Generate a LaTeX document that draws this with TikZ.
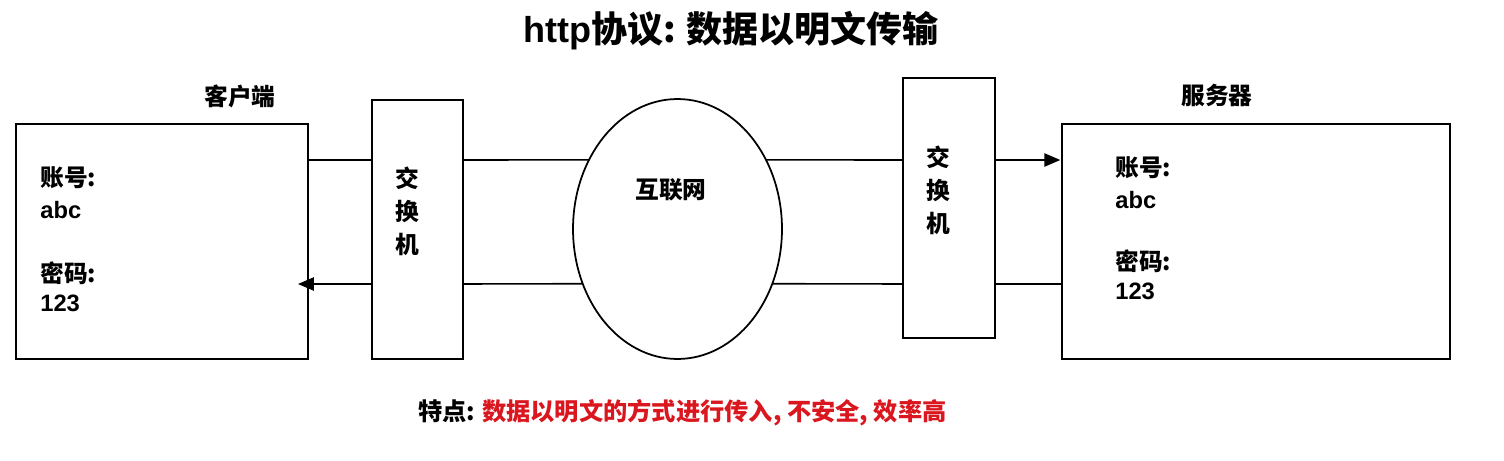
\documentclass[tikz,border=0pt]{standalone}
\usepackage{fontspec}
\setmainfont{Liberation Sans}
\newfontfamily\cjk{Noto Sans CJK SC}
\usetikzlibrary{arrows.meta,shapes.geometric}
\definecolor{notered}{RGB}{218,22,30}

\begin{document}
\begin{tikzpicture}[x=0.02cm,y=-0.02cm,
	box_node/.style={rectangle,draw,line width=1pt,outer sep=0pt,inner sep=0pt},
	net_node/.style={ellipse,draw,line width=1pt,outer sep=0pt,inner sep=0pt,minimum width=4.18cm,minimum height=5.2cm},
	txt/.style={font=\fontsize{13.5}{15}\selectfont\bfseries,inner sep=0pt},
	cjk_txt/.style={font=\cjk\fontsize{13.5}{15}\selectfont\bfseries,inner sep=0pt},
	sw_txt/.style={font=\cjk\fontsize{13.5}{18.7}\selectfont\bfseries,inner sep=0pt,align=center},
	link/.style={line width=0.9pt},
	arr/.style={link,-{Triangle[length=9pt,width=7.5pt]}}]

		\useasboundingbox (0,0) rectangle (1504,460);

		\node[font=\fontsize{20.5}{24}\selectfont\bfseries,inner sep=0pt] (title) at (731,31) {http{\cjk 协议: 数据以明文传输}};

		% client side
		\node[cjk_txt] (client_lbl) at (240,96) {客户端};
		\node[box_node,minimum width=5.84cm,minimum height=4.7cm] (client) at (162,241.5) {};
		\node[cjk_txt,anchor=west] (c_acc) at (40,178) {账号:};
		\node[txt,anchor=west] (c_user) at (40,210) {abc};
		\node[cjk_txt,anchor=west] (c_pwd) at (40,273) {密码:};
		\node[txt,anchor=west] (c_num) at (40,303) {123};

		% switches and internet
		\node[box_node,minimum width=1.82cm,minimum height=5.18cm] (sw1) at (417.5,229.5) {};
		\node[sw_txt] (sw1_txt) at (407,211.5) {交\\换\\机};
		\node[net_node] (net) at (677.5,229) {};
		\node[cjk_txt] (net_txt) at (671,190) {互联网};
		\node[box_node,minimum width=1.84cm,minimum height=5.2cm] (sw2) at (949,208) {};
		\node[sw_txt] (sw2_txt) at (938,190) {交\\换\\机};

		% server side
		\node[cjk_txt] (server_lbl) at (1217,95) {服务器};
		\node[box_node,minimum width=7.76cm,minimum height=4.7cm] (server) at (1256,241.5) {};
		\node[cjk_txt,anchor=west] (s_acc) at (1115,168) {账号:};
		\node[txt,anchor=west] (s_user) at (1115,200) {abc};
		\node[cjk_txt,anchor=west] (s_pwd) at (1115,261) {密码:};
		\node[txt,anchor=west] (s_num) at (1115,291) {123};

		\coordinate (up) at (0,160);
		\coordinate (down) at (0,284);

		% request
		\draw[link] (client.east |- up) -- (sw1.west |- up);
		\draw[link] (sw1.east |- up) -- (net.142);
		\draw[link] (net.38) -- (sw2.west |- up);
		\draw[arr] (sw2.east |- up) -- ([xshift=-1pt]server.west |- up);

		% response
		\draw[link] (server.west |- down) -- (sw2.east |- down);
		\draw[link] (sw2.west |- down) -- (net.330);
		\draw[link] (net.210) -- (sw1.east |- down);
		\draw[arr] (sw1.west |- down) -- ([xshift=-0.2cm]client.east |- down);

		\node[txt,anchor=west,font=\fontsize{13.8}{16}\selectfont\bfseries] (note) at (418,413) {{\cjk 特点:}\ \textcolor{notered}{\cjk 数据以明文的方式进行传入, 不安全, 效率高}};
\end{tikzpicture}
\end{document}
